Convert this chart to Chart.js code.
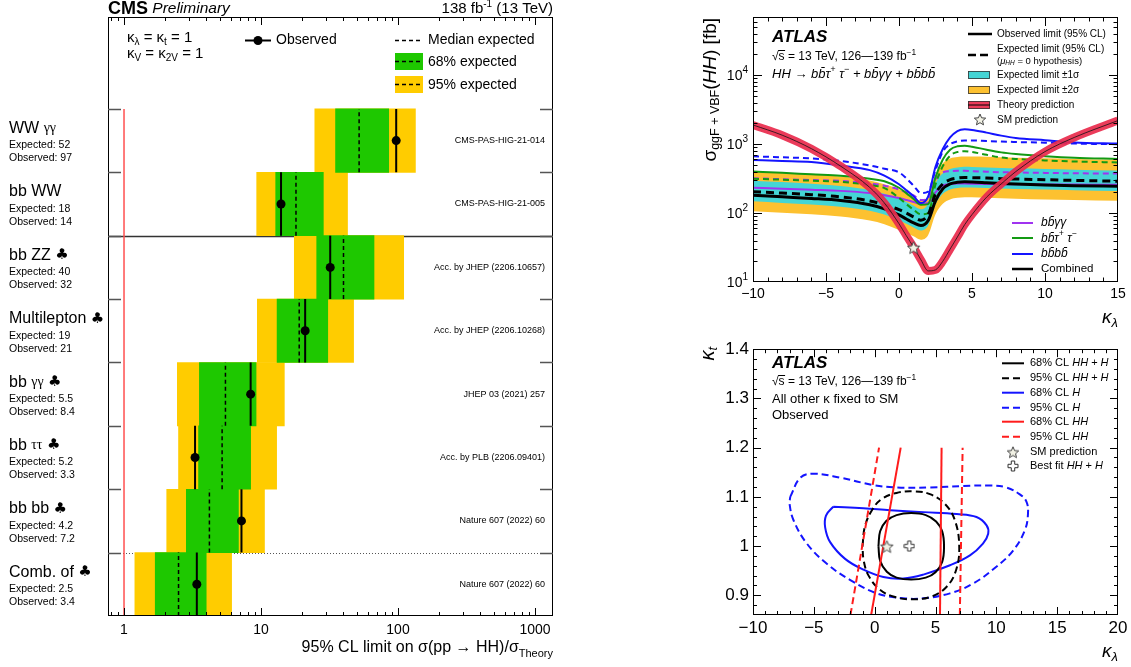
<!DOCTYPE html>
<html>
<head>
<meta charset="utf-8">
<title>HH limits</title>
<script src="https://cdn.jsdelivr.net/npm/chart.js"></script>
<style>
  html, body { margin: 0; padding: 0; background: #fff; }
  body { width: 1131px; height: 667px; position: relative; overflow: hidden; }
  canvas { position: absolute; }
</style>
</head>
<body>
<canvas id="cms" width="560" height="667" style="left:0;top:0"></canvas>
<canvas id="xsec" width="441" height="335" style="left:690px;top:0"></canvas>
<canvas id="contour" width="441" height="332" style="left:690px;top:335px"></canvas>
<script>
// ---- CMS summary (left) ----
const channels = ['WW γγ', 'bb WW', 'bb ZZ ♣', 'Multilepton ♣', 'bb γγ ♣', 'bb ττ ♣', 'bb bb ♣', 'Comb. of ♣'];
const references = ['CMS-PAS-HIG-21-014', 'CMS-PAS-HIG-21-005', 'Acc. by JHEP (2206.10657)', 'Acc. by JHEP (2206.10268)',
  'JHEP 03 (2021) 257', 'Acc. by PLB (2206.09401)', 'Nature 607 (2022) 60', 'Nature 607 (2022) 60'];
const expectedLimit = [52, 18, 40, 19, 5.5, 5.2, 4.2, 2.5];
const observedLimit = [97, 14, 32, 21, 8.4, 3.3, 7.2, 3.4];
const band68Low = [35, 12.8, 25.5, 13.1, 3.55, 3.5, 2.85, 1.69];
const band68High = [85.5, 28.5, 66.8, 30.7, 9.2, 8.4, 6.84, 3.98];
const band95Low = [24.7, 9.3, 17.5, 9.4, 2.45, 2.5, 2.05, 1.2];
const band95High = [134, 42.8, 110, 47.4, 14.8, 13.0, 10.6, 6.1];
const cmsTickLabels = ['1', '10', '100', '1000'];
const theoryRatio = 1;

// ---- ATLAS cross-section scan (top right) ----
const kl = [-10, -8, -6, -4, -2, -1, 0, 0.5, 1, 1.5, 2, 2.5, 3, 3.5, 4, 4.5, 5, 6, 7, 8, 10, 12, 15];
const theoryXsec = [1900, 1350, 860, 480, 235, 140, 70, 47, 32, 21, 14.5, 15, 20, 30, 45, 68, 95, 170, 265, 400, 780, 1250, 2200];
const combObs = [182, 172, 163, 152, 132, 115, 94, 82, 72, 66, 78, 150, 225, 265, 280, 285, 283, 276, 269, 264, 256, 250, 245];
const combExp = [204, 195, 185, 172, 150, 132, 112, 100, 88, 79, 95, 190, 265, 305, 322, 328, 327, 322, 316, 312, 305, 298, 290];
const exp1Low = [148, 140, 133, 124, 108, 95, 78, 70, 62, 56, 66, 134, 190, 220, 232, 236, 235, 231, 227, 224, 220, 215, 209];
const exp1High = [295, 282, 267, 248, 216, 190, 162, 145, 128, 114, 137, 272, 378, 436, 460, 469, 468, 460, 452, 446, 436, 426, 415];
const exp2Low = [106, 101, 96, 89, 78, 69, 57, 51, 46, 41, 48, 96, 137, 158, 167, 170, 170, 167, 164, 162, 158, 155, 151];
const exp2High = [400, 385, 365, 340, 298, 262, 222, 198, 172, 150, 178, 360, 530, 620, 650, 660, 660, 655, 645, 635, 625, 610, 595];
const yyObs = [233, 226, 218, 210, 195, 182, 166, 155, 145, 135, 140, 200, 250, 264, 268, 268, 267, 265, 263, 262, 260, 259, 258];
const yyExp = [320, 310, 302, 293, 270, 250, 220, 200, 180, 155, 160, 300, 390, 405, 410, 410, 405, 398, 392, 388, 383, 378, 375];
const ttObs = [400, 385, 365, 348, 315, 290, 233, 195, 160, 132, 135, 330, 600, 830, 930, 950, 920, 830, 760, 720, 670, 635, 610];
const ttExp = [315, 305, 295, 283, 255, 230, 166, 135, 112, 96, 100, 260, 480, 680, 770, 790, 770, 700, 640, 610, 580, 560, 543];
const bbObs = [588, 570, 550, 490, 420, 350, 262, 215, 175, 140, 175, 470, 850, 1250, 1550, 1640, 1610, 1470, 1330, 1230, 1140, 1060, 1020];
const bbExp = [665, 645, 620, 570, 490, 440, 390, 320, 250, 195, 205, 420, 780, 1000, 1100, 1130, 1130, 1110, 1090, 1075, 1050, 1020, 1000];
const smKl = 1, smXsec = 32;

// ---- ATLAS kappa_lambda vs kappa_t (bottom right) ----
const hhh68 = [[0.31, 1.0], [0.45, 1.03], [0.95, 1.051], [1.8, 1.063], [3.0, 1.067], [4.2, 1.063], [5.05, 1.05], [5.55, 1.03], [5.7, 1.0],
  [5.55, 0.968], [5.0, 0.947], [4.2, 0.936], [3.0, 0.932], [1.8, 0.936], [1.0, 0.948], [0.45, 0.97], [0.31, 1.0]];
const hhh95 = [[-1.0, 1.0], [-0.8, 1.04], [-0.2, 1.074], [0.6, 1.096], [1.8, 1.108], [3.3, 1.111], [4.6, 1.105], [5.8, 1.085], [6.6, 1.052],
  [6.95, 1.0], [6.7, 0.952], [5.9, 0.917], [4.6, 0.897], [3.0, 0.892], [1.6, 0.897], [0.4, 0.912], [-0.5, 0.94], [-0.9, 0.97], [-1.0, 1.0]];
const h68 = [[-3.4, 1.08], [-0.92, 1.077], [1.27, 1.073], [4.0, 1.069], [6.74, 1.065], [8.37, 1.059], [9.2, 1.042], [9.33, 1.025], [8.9, 1.005],
  [7.83, 0.981], [6.19, 0.961], [4.0, 0.942], [2.36, 0.934], [0.72, 0.937], [-0.92, 0.952], [-2.43, 0.974], [-3.66, 1.008], [-4.07, 1.038],
  [-4.0, 1.062], [-3.4, 1.08]];
const h95 = [[-6.94, 1.1], [-6.1, 1.139], [-5.0, 1.147], [-2.84, 1.139], [-0.1, 1.124], [1.81, 1.119], [4.55, 1.119], [7.28, 1.122], [9.47, 1.123],
  [10.84, 1.119], [11.93, 1.105], [12.48, 1.09], [12.6, 1.065], [12.34, 1.032], [11.38, 0.991], [10.0, 0.958], [8.1, 0.924], [6.19, 0.904],
  [4.0, 0.894], [2.36, 0.894], [0.17, 0.904], [-2.0, 0.931], [-3.93, 0.964], [-5.57, 1.005], [-6.66, 1.052], [-6.99, 1.085], [-6.94, 1.1]];
const hh68Left = [[-0.29, 0.86], [2.14, 1.2]];
const hh68Right = [[5.37, 0.86], [5.5, 1.2]];
const hh95Left = [[-1.99, 0.86], [0.36, 1.2]];
const hh95Right = [[7.0, 0.86], [7.23, 1.2]];
const smPoint = [1, 1];
const bestFit = [2.85, 1.0];

const FONT = '"Liberation Sans", Arial, Helvetica, sans-serif';
const YELLOW = '#ffcc00', GREEN = '#1ec800';
const CYAN = '#44d5d5', ORANGE = '#fdc130', THEORY = 'rgba(234, 44, 78, 0.93)';
const PURPLE = '#a033f0', TTGREEN = '#139a13', BLUE = '#1414ff', RED = '#ff1c1c';

Chart.defaults.font.family = FONT;
Chart.defaults.color = '#000';
Chart.defaults.animation = false;
Chart.defaults.plugins.legend.display = false;
Chart.defaults.plugins.tooltip.enabled = false;

const f = (size, style) => (style ? style + ' ' : '') + size + 'px ' + FONT;

// draw a row of text pieces [text, font, dy]
function rich(ctx, x, y, parts, align) {
  let w = 0;
  for (const p of parts) { ctx.font = p[1]; w += ctx.measureText(p[0]).width; }
  let cx = align === 'right' ? x - w : align === 'center' ? x - w / 2 : x;
  for (const p of parts) {
    ctx.font = p[1];
    ctx.fillText(p[0], cx, y + (p[2] || 0));
    cx += ctx.measureText(p[0]).width;
  }
  return w;
}

function sampleLine(ctx, x1, x2, y, color, width, dash) {
  ctx.save();
  ctx.strokeStyle = color; ctx.lineWidth = width; ctx.setLineDash(dash || []);
  ctx.beginPath(); ctx.moveTo(x1, y); ctx.lineTo(x2, y); ctx.stroke();
  ctx.restore();
}

function sqrtS(ctx, x, y, size) {
  ctx.font = f(size);
  const wr = ctx.measureText('√').width;
  const ws = ctx.measureText('s').width;
  ctx.fillText('√', x, y);
  ctx.fillText('s', x + wr, y);
  ctx.fillRect(x + wr - 0.5, Math.round(y - size * 0.55), ws + 1, 1);
  rich(ctx, x + wr + ws, y, [[' = 13 TeV, 126—139 fb', f(size)], ['−1', f(size * 0.7), -size * 0.35]]);
}

function starMarker(size) {
  const c = document.createElement('canvas');
  c.width = c.height = size;
  const g = c.getContext('2d');
  const r = size / 2 - 1, r2 = r * 0.45;
  g.beginPath();
  for (let k = 0; k < 10; k++) {
    const a = -Math.PI / 2 + k * Math.PI / 5, rr = k % 2 ? r2 : r;
    g.lineTo(size / 2 + rr * Math.cos(a), size / 2 + 1 + rr * Math.sin(a));
  }
  g.closePath();
  g.fillStyle = '#f1f1e4'; g.fill();
  g.strokeStyle = '#444'; g.lineWidth = 1; g.stroke();
  return c;
}

function crossMarker(size) {
  const c = document.createElement('canvas');
  c.width = c.height = size;
  const g = c.getContext('2d');
  const m = size / 2, a = size / 2 - 1, b = size / 7;
  g.beginPath();
  [[-b, -a], [b, -a], [b, -b], [a, -b], [a, b], [b, b], [b, a], [-b, a], [-b, b], [-a, b], [-a, -b], [-b, -b]]
    .forEach(p => g.lineTo(m + p[0], m + p[1]));
  g.closePath();
  g.fillStyle = '#fff'; g.fill();
  g.strokeStyle = '#333'; g.lineWidth = 1; g.stroke();
  return c;
}

const STAR = starMarker(15), STAR_SMALL = starMarker(14), CROSS = crossMarker(12);

// frame + inward ticks on all four sides (ROOT style)
const rootFrame = {
  id: 'rootFrame',
  afterDatasetsDraw(chart, args, o) {
    const { ctx, chartArea: a } = chart;
    const sx = chart.scales.x, sy = chart.scales.y;
    ctx.save();
    ctx.strokeStyle = o.color || '#000';
    ctx.lineWidth = 1;
    ctx.beginPath();
    sx.ticks.forEach(t => {
      const p = Math.round(sx.getPixelForValue(t.value)) + 0.5;
      if (p < a.left + 1 || p > a.right - 1) return;
      const L = t.major ? o.major : o.minor;
      ctx.moveTo(p, a.bottom); ctx.lineTo(p, a.bottom - L);
      ctx.moveTo(p, a.top); ctx.lineTo(p, a.top + L);
    });
    if (o.yTicks) {
      sy.ticks.forEach(t => {
        const p = Math.round(sy.getPixelForValue(t.value)) + 0.5;
        if (p < a.top + 1 || p > a.bottom - 1) return;
        const L = t.major ? o.major : o.minor;
        ctx.moveTo(a.left, p); ctx.lineTo(a.left + L, p);
        ctx.moveTo(a.right, p); ctx.lineTo(a.right - L, p);
      });
    }
    ctx.stroke();
    ctx.strokeRect(Math.round(a.left) + 0.5, Math.round(a.top) + 0.5, Math.round(a.width) - 1, Math.round(a.height) - 1);
    ctx.restore();
  }
};

const isDecade = v => Math.abs(Math.log10(v) - Math.round(Math.log10(v))) < 1e-9;
const noGrid = { display: false, drawTicks: false };

// ================= CMS =================
const rowY = i => channels.length - 1 - i;
const solidAfter = 1, dottedAfter = 6;
const cmsTicks = [];
for (let e = -1; e <= 3; e++) for (let m = 1; m <= 9; m++) {
  const v = m * Math.pow(10, e);
  if (v > 0.764 && v < 1353) cmsTicks.push(v);
}
// row boundaries (used as y ticks)
const rowEdges = [];
for (let r = 0; r <= channels.length; r++) rowEdges.push(r - 0.5);

function rowSegments(vals) {
  const pts = [];
  vals.forEach((v, i) => {
    pts.push({ x: v, y: rowY(i) - 0.5 }, { x: v, y: rowY(i) + 0.5 }, { x: null, y: null });
  });
  return pts;
}

function channelName(ctx, x, y, name) {
  for (const ch of name) {
    if (ch === 'γ' || ch === 'τ') ctx.font = '14px "Liberation Serif", "DejaVu Serif", serif';
    else if (ch === '♣') ctx.font = '15px "DejaVu Sans", sans-serif';
    else ctx.font = f(16);
    ctx.fillText(ch, x, y);
    x += ctx.measureText(ch).width;
  }
}

const cmsDecor = {
  id: 'cmsDecor',
  beforeDatasetsDraw(chart) {
    const { ctx, chartArea: a, scales: { y } } = chart;
    ctx.save();
    let p = Math.round(y.getPixelForValue(rowY(solidAfter) - 0.5)) + 0.5;
    ctx.strokeStyle = '#333'; ctx.lineWidth = 1.5;
    ctx.beginPath(); ctx.moveTo(a.left, p); ctx.lineTo(a.right, p); ctx.stroke();
    p = Math.round(y.getPixelForValue(rowY(dottedAfter) - 0.5)) + 0.5;
    ctx.strokeStyle = '#555'; ctx.lineWidth = 1; ctx.setLineDash([1, 2]);
    ctx.beginPath(); ctx.moveTo(a.left, p); ctx.lineTo(a.right, p); ctx.stroke();
    ctx.restore();
  },
  afterDatasetsDraw(chart) {
    const { ctx, chartArea: a, scales: { y } } = chart;
    ctx.save();
    ctx.strokeStyle = '#555'; ctx.lineWidth = 1.5;
    ctx.beginPath();
    y.ticks.forEach(t => {
      const p = Math.round(y.getPixelForValue(t.value)) + 0.5;
      if (p > a.bottom - 2) return;
      ctx.moveTo(a.left, p); ctx.lineTo(a.left + 13, p);
      ctx.moveTo(a.right, p); ctx.lineTo(a.right - 13, p);
    });
    ctx.stroke();
    ctx.restore();
  },
  afterDraw(chart) {
    const { ctx, chartArea: a, scales: { y } } = chart;
    ctx.save();
    ctx.fillStyle = '#000';
    ctx.textBaseline = 'middle';
    rich(ctx, a.left, 9, [['CMS', f(18, 'bold')], [' Preliminary', f(15.5, 'italic')]]);
    rich(ctx, a.right, 9, [['138 fb', f(15)], ['-1', f(10), -5], [' (13 TeV)', f(15)]], 'right');

    // legend block
    rich(ctx, 127, 38, [['κ', f(15)], ['λ', f(10), 4], [' = κ', f(15)], ['t', f(10), 4], [' = 1', f(15)]]);
    rich(ctx, 127, 54, [['κ', f(15)], ['V', f(10), 4], [' = κ', f(15)], ['2V', f(10), 4], [' = 1', f(15)]]);
    sampleLine(ctx, 245, 271, 40.5, '#000', 2);
    ctx.beginPath(); ctx.arc(258, 40.5, 4.5, 0, Math.PI * 2); ctx.fill();
    ctx.font = f(14); ctx.fillText('Observed', 276, 40);
    sampleLine(ctx, 395, 423, 40.5, '#000', 1.5, [4, 3]);
    ctx.fillText('Median expected', 428, 40);
    ctx.fillStyle = GREEN; ctx.fillRect(395, 53, 28, 17);
    ctx.fillStyle = YELLOW; ctx.fillRect(395, 76, 28, 17);
    sampleLine(ctx, 395, 423, 61.5, '#000', 1.5, [4, 3]);
    sampleLine(ctx, 395, 423, 84.5, '#000', 1.5, [4, 3]);
    ctx.fillStyle = '#000';
    ctx.fillText('68% expected', 428, 62);
    ctx.fillText('95% expected', 428, 85);

    channels.forEach((name, i) => {
      const yc = y.getPixelForValue(rowY(i));
      channelName(ctx, 9, yc - 12, name);
      ctx.font = f(10.5);
      ctx.fillText('Expected: ' + expectedLimit[i], 9, yc + 5);
      ctx.fillText('Observed: ' + observedLimit[i], 9, yc + 18);
      ctx.font = f(9);
      ctx.textAlign = 'right';
      ctx.fillText(references[i], 545, yc);
      ctx.textAlign = 'left';
    });

    rich(ctx, a.right, 648, [['95% CL limit on σ(pp → HH)/σ', f(16)], ['Theory', f(11), 6]], 'right');
    ctx.restore();
  }
};

new Chart(document.getElementById('cms'), {
  type: 'bar',
  data: {
    datasets: [
      { label: '95% expected', indexAxis: 'y', grouped: false, barPercentage: 1, categoryPercentage: 1,
        data: channels.map((c, i) => ({ y: rowY(i), x: [band95Low[i], band95High[i]] })),
        backgroundColor: YELLOW, borderWidth: 0, order: 6 },
      { label: '68% expected', indexAxis: 'y', grouped: false, barPercentage: 1, categoryPercentage: 1,
        data: channels.map((c, i) => ({ y: rowY(i), x: [band68Low[i], band68High[i]] })),
        backgroundColor: GREEN, borderWidth: 0, order: 5 },
      { type: 'line', label: 'SM', data: [{ x: theoryRatio, y: -0.5 }, { x: theoryRatio, y: channels.length - 0.5 }],
        borderColor: '#ff5050', borderWidth: 1.5, pointRadius: 0, order: 4 },
      { type: 'line', label: 'Median expected', data: rowSegments(expectedLimit), borderColor: '#000', borderWidth: 1.5,
        borderDash: [4, 3], pointRadius: 0, spanGaps: false, order: 3 },
      { type: 'line', label: 'Observed', data: rowSegments(observedLimit), borderColor: '#000', borderWidth: 2,
        pointRadius: 0, spanGaps: false, order: 2 },
      { type: 'line', label: 'Observed points', data: observedLimit.map((v, i) => ({ x: v, y: rowY(i) })), showLine: false,
        pointRadius: 4.5, pointBackgroundColor: '#000', pointBorderWidth: 0, order: 1 }
    ]
  },
  options: {
    responsive: false,
    layout: { padding: { left: 108, right: 7, top: 17, bottom: 0 } },
    scales: {
      x: {
        type: 'logarithmic', min: 0.764, max: 1353, offset: false,
        grid: noGrid, border: { display: false },
        afterBuildTicks: s => { s.ticks = cmsTicks.map(v => ({ value: v, major: isDecade(v) })); },
        afterFit: s => { s.height = 51; },
        ticks: { autoSkip: false, maxRotation: 0, padding: 6, font: { size: 14 }, color: '#000',
          callback: v => (cmsTickLabels.includes(String(v)) ? String(v) : '') }
      },
      y: {
        type: 'linear', min: -0.5, max: 8.95, offset: false,
        grid: noGrid, border: { display: false }, ticks: { display: false },
        afterBuildTicks: s => { s.ticks = rowEdges.map(v => ({ value: v })); },
        afterFit: s => { s.width = 0; }
      }
    },
    plugins: { rootFrame: { major: 8, minor: 4 } }
  },
  plugins: [rootFrame, cmsDecor]
});

// ================= ATLAS cross section =================
const xsecTicksX = [];
for (let k = -10; k <= 15; k++) xsecTicksX.push(k);
const xsecTicksY = [];
for (let e = 1; e <= 4; e++) for (let m = 1; m <= 9; m++) { const v = m * Math.pow(10, e); if (v <= 70000) xsecTicksY.push(v); }

const curve = (vals, color, width, dash, order, extra) => Object.assign({
  data: kl.map((k, i) => ({ x: k, y: vals[i] })), borderColor: color, borderWidth: width, borderDash: dash || [],
  pointRadius: 0, fill: false, cubicInterpolationMode: 'monotone', clip: 0, order
}, extra || {});

const xsecDecor = {
  id: 'xsecDecor',
  afterDraw(chart) {
    const { ctx, scales: { y } } = chart;
    ctx.save();
    ctx.fillStyle = '#000';
    ctx.textBaseline = 'middle';
    // y tick labels 10^n
    y.ticks.forEach(t => {
      if (!t.major) return;
      const p = y.getPixelForValue(t.value);
      rich(ctx, 58, p + 1, [['10', f(14)], [String(Math.round(Math.log10(t.value))), f(10), -6]], 'right');
    });
    // axis titles
    rich(ctx, 428, 318, [['κ', f(19, 'italic')], ['λ', f(13, 'italic'), 5]], 'right');
    ctx.save();
    ctx.translate(21, 18);
    ctx.rotate(-Math.PI / 2);
    rich(ctx, 0, 0, [['σ', f(19)], ['ggF + VBF', f(12.5), 5], ['(', f(19)], ['HH', f(19, 'italic')], [') [fb]', f(19)]], 'right');
    ctx.restore();

    ctx.font = f(17, 'italic bold');
    ctx.fillText('ATLAS', 82, 37);
    sqrtS(ctx, 82, 57, 12);
    const it = s => f(s, 'italic');
    rich(ctx, 82, 74, [['HH → bb̄τ', it(13)], ['+', it(9), -5], [' τ', it(13)], ['−', it(9), -5],
      [' + bb̄γγ + bb̄bb̄', it(13)]]);

    // upper legend
    const lx1 = 278, lx2 = 302, tx = 307;
    ctx.font = f(10);
    sampleLine(ctx, lx1, lx2, 34, '#000', 2.5);
    ctx.fillText('Observed limit (95% CL)', tx, 34);
    sampleLine(ctx, lx1, lx2, 55, '#000', 2.5, [8, 4]);
    ctx.font = f(10);
    ctx.fillText('Expected limit (95% CL)', tx, 49);
    rich(ctx, tx, 61, [['(', f(9.5)], ['μ', it(9.5)], ['HH', it(6.5), 2], [' = 0 hypothesis)', f(9.5)]]);
    const box = (yc, color) => {
      ctx.fillStyle = color; ctx.fillRect(lx1, yc - 4, 22, 8);
      ctx.strokeStyle = '#333'; ctx.lineWidth = 0.8; ctx.strokeRect(lx1 + 0.5, yc - 3.5, 21, 7);
      ctx.fillStyle = '#000';
    };
    box(75, CYAN); ctx.font = f(10); ctx.fillText('Expected limit ±1σ', tx, 75);
    box(90, ORANGE); ctx.fillText('Expected limit ±2σ', tx, 90);
    box(105, THEORY); sampleLine(ctx, lx1, lx1 + 22, 105, '#000', 1);
    ctx.fillText('Theory prediction', tx, 105);
    ctx.drawImage(STAR_SMALL, 283, 112);
    ctx.fillText('SM prediction', tx, 120);

    // channel legend
    const cx1 = 322, cx2 = 343, ctx2 = 351;
    sampleLine(ctx, cx1, cx2, 223, PURPLE, 2);
    rich(ctx, ctx2, 223, [['bb̄γγ', it(12)]]);
    sampleLine(ctx, cx1, cx2, 238, TTGREEN, 2);
    rich(ctx, ctx2, 239, [['bb̄τ', it(12)], ['+', it(8.5), -5], [' τ', it(12)], ['−', it(8.5), -5]]);
    sampleLine(ctx, cx1, cx2, 254, BLUE, 2);
    rich(ctx, ctx2, 254, [['bb̄bb̄', it(12)]]);
    sampleLine(ctx, cx1, cx2, 269, '#000', 2.5);
    ctx.font = f(11.5);
    ctx.fillText('Combined', ctx2, 269);
    ctx.restore();
  }
};

new Chart(document.getElementById('xsec'), {
  type: 'line',
  data: {
    datasets: [
      curve(exp2Low, 'rgba(0,0,0,0)', 0, null, 20),
      curve(exp2High, 'rgba(0,0,0,0)', 0, null, 19, { fill: '-1', backgroundColor: ORANGE }),
      curve(exp1Low, 'rgba(0,0,0,0)', 0, null, 18),
      curve(exp1High, 'rgba(0,0,0,0)', 0, null, 17, { fill: '-1', backgroundColor: CYAN }),
      curve(yyExp, PURPLE, 2, [6, 4], 16),
      curve(yyObs, PURPLE, 2, null, 15),
      curve(ttExp, TTGREEN, 2, [6, 4], 14),
      curve(ttObs, TTGREEN, 2, null, 13),
      curve(bbExp, BLUE, 2, [6, 4], 12),
      curve(bbObs, BLUE, 2, null, 11),
      curve(combExp, '#000', 3, [8, 5], 10),
      curve(combObs, '#000', 3, null, 9),
      curve(theoryXsec, THEORY, 8, null, 8),
      curve(theoryXsec, '#111', 0.8, null, 7),
      { data: [{ x: smKl, y: smXsec }], showLine: false, pointStyle: STAR, pointRadius: 7, order: 1 }
    ]
  },
  options: {
    responsive: false,
    layout: { padding: { left: 0, right: 13, top: 17, bottom: 0 } },
    scales: {
      x: {
        type: 'linear', min: -10, max: 15,
        grid: noGrid, border: { display: false },
        afterBuildTicks: s => { s.ticks = xsecTicksX.map(v => ({ value: v, major: v % 5 === 0 })); },
        afterFit: s => { s.height = 53; },
        ticks: { autoSkip: false, maxRotation: 0, padding: 4, font: { size: 14 }, color: '#000',
          callback: v => (v % 5 === 0 ? String(v).replace('-', '−') : '') }
      },
      y: {
        type: 'logarithmic', min: 10, max: 70000,
        grid: noGrid, border: { display: false }, ticks: { display: false },
        afterBuildTicks: s => { s.ticks = xsecTicksY.map(v => ({ value: v, major: isDecade(v) })); },
        afterFit: s => { s.width = 63; }
      }
    },
    plugins: { rootFrame: { major: 9, minor: 4.5, yTicks: true } }
  },
  plugins: [rootFrame, xsecDecor]
});

// ================= ATLAS kl-kt contour =================
const ctrTicksX = [];
for (let k = -10; k <= 20; k++) ctrTicksX.push(k);
const ctrTicksY = [];
for (let v = 86; v <= 140; v += 2) ctrTicksY.push(v / 100);

const contour = (pts, color, dash, order, tension) => ({
  data: pts.map(p => ({ x: p[0], y: p[1] })), borderColor: color, borderWidth: 2, borderDash: dash || [],
  tension: tension === undefined ? 0.4 : tension, pointRadius: 0, fill: false, clip: 0, order
});

const contourDecor = {
  id: 'contourDecor',
  afterDraw(chart) {
    const { ctx } = chart;
    ctx.save();
    ctx.fillStyle = '#000';
    ctx.textBaseline = 'middle';
    rich(ctx, 428, 317, [['κ', f(19, 'italic')], ['λ', f(13, 'italic'), 5]], 'right');
    ctx.save();
    ctx.translate(18, 12);
    ctx.rotate(-Math.PI / 2);
    rich(ctx, 0, 0, [['κ', f(20, 'italic')], ['t', f(13, 'italic'), 5]], 'right');
    ctx.restore();

    ctx.font = f(17, 'italic bold');
    ctx.fillText('ATLAS', 82, 28);
    sqrtS(ctx, 82, 46.5, 12);
    ctx.font = f(13);
    ctx.fillText('All other κ fixed to SM', 82, 64);
    ctx.fillText('Observed', 82, 80);

    const lx1 = 312, lx2 = 334, tx = 340, it = f(11, 'italic'), rm = f(11);
    const rows = [
      ['68% CL ', ['HH', ' + ', 'H'], '#000', null],
      ['95% CL ', ['HH', ' + ', 'H'], '#000', [7, 4]],
      ['68% CL ', ['H'], BLUE, null],
      ['95% CL ', ['H'], BLUE, [7, 4]],
      ['68% CL ', ['HH'], RED, null],
      ['95% CL ', ['HH'], RED, [7, 4]]
    ];
    const ys = [28.3, 43.3, 57.7, 72.7, 86.7, 101.7, 116.7, 131];
    rows.forEach((r, i) => {
      sampleLine(ctx, lx1, lx2, ys[i], r[2], 2, r[3]);
      const parts = [[r[0], rm]];
      r[1].forEach(s => parts.push([s, s.trim() === '+' ? rm : it]));
      rich(ctx, tx, ys[i], parts);
    });
    ctx.drawImage(STAR_SMALL, lx1 + 4, ys[6] - 7);
    ctx.font = rm; ctx.fillText('SM prediction', tx, ys[6]);
    ctx.drawImage(CROSS, lx1 + 5, ys[7] - 6);
    rich(ctx, tx, ys[7], [['Best fit ', rm], ['HH', it], [' + ', rm], ['H', it]]);
    ctx.restore();
  }
};

new Chart(document.getElementById('contour'), {
  type: 'line',
  data: {
    datasets: [
      contour(h95, BLUE, [7, 4], 9),
      contour(h68, BLUE, null, 8),
      contour(hhh95, '#000', [7, 4], 7),
      contour(hhh68, '#000', null, 6),
      contour(hh95Left, RED, [7, 4], 5, 0),
      contour(hh95Right, RED, [7, 4], 5, 0),
      contour(hh68Left, RED, null, 4, 0),
      contour(hh68Right, RED, null, 4, 0),
      { data: [{ x: smPoint[0], y: smPoint[1] }], showLine: false, pointStyle: STAR, pointRadius: 7, order: 1 },
      { data: [{ x: bestFit[0], y: bestFit[1] }], showLine: false, pointStyle: CROSS, pointRadius: 6, order: 1 }
    ]
  },
  options: {
    responsive: false,
    layout: { padding: { left: 0, right: 13, top: 12, bottom: 0 } },
    scales: {
      x: {
        type: 'linear', min: -10, max: 20,
        grid: noGrid, border: { display: false },
        afterBuildTicks: s => { s.ticks = ctrTicksX.map(v => ({ value: v, major: v % 5 === 0 })); },
        afterFit: s => { s.height = 52; },
        ticks: { autoSkip: false, maxRotation: 0, padding: 3, font: { size: 17 }, color: '#000',
          callback: v => (v % 5 === 0 ? String(v).replace('-', '−') : '') }
      },
      y: {
        type: 'linear', min: 0.86, max: 1.4,
        grid: noGrid, border: { display: false },
        afterBuildTicks: s => { s.ticks = ctrTicksY.map(v => ({ value: v, major: Math.round(v * 100) % 10 === 0 })); },
        afterFit: s => { s.width = 63; },
        ticks: { autoSkip: false, padding: 4, font: { size: 17 }, color: '#000',
          callback: v => (Math.round(v * 100) % 10 === 0 ? String(Math.round(v * 10) / 10) : '') }
      }
    },
    plugins: { rootFrame: { major: 8, minor: 4, yTicks: true } }
  },
  plugins: [rootFrame, contourDecor]
});
</script>
</body>
</html>
